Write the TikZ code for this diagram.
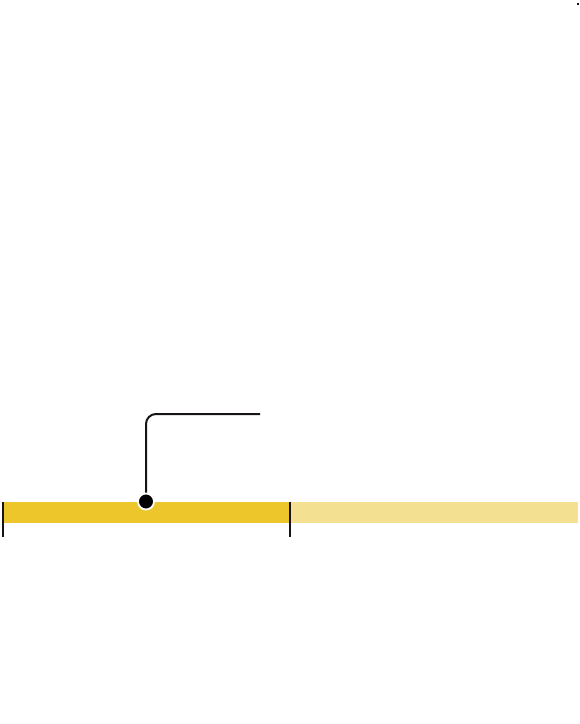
\documentclass[tikz,border=0pt]{standalone}
\usetikzlibrary{positioning}
\definecolor{MyGold}{rgb}{0.925, 0.776, 0.169}
\definecolor{MyPaleGold}{rgb}{0.957, 0.878, 0.569}
\definecolor{MyInk}{rgb}{0.10, 0.08, 0.08}

\begin{document}
\begin{tikzpicture}[x=1pt, y=-1pt,
		bar/.style={rectangle, inner sep=0pt, minimum height=21.5pt, anchor=north west},
		tick/.style={MyInk, line width=1.5pt},
		leader/.style={MyInk, line width=2pt, rounded corners=10pt}]
		\useasboundingbox (0,0) rectangle (580,724);
		\node[bar, fill=MyGold, minimum width=287pt] (past) at (3,501.5) {};
		\node[bar, fill=MyPaleGold, minimum width=288pt] (future) at (290,501.5) {};
		\coordinate (tip) at (260,414);
		\draw[leader] (146,501.5) |- (tip);
		\node[circle, fill=black, draw=white, line width=1.8pt, minimum size=16pt, inner sep=0pt] (now) at (146,501.5) {};
		\draw[tick] (past.north west) -- ++(0,35.5);
		\draw[tick] (future.north west) -- ++(0,35.5);
		\fill[MyInk] (577,3) rectangle (579,5);
	\end{tikzpicture}
\end{document}
